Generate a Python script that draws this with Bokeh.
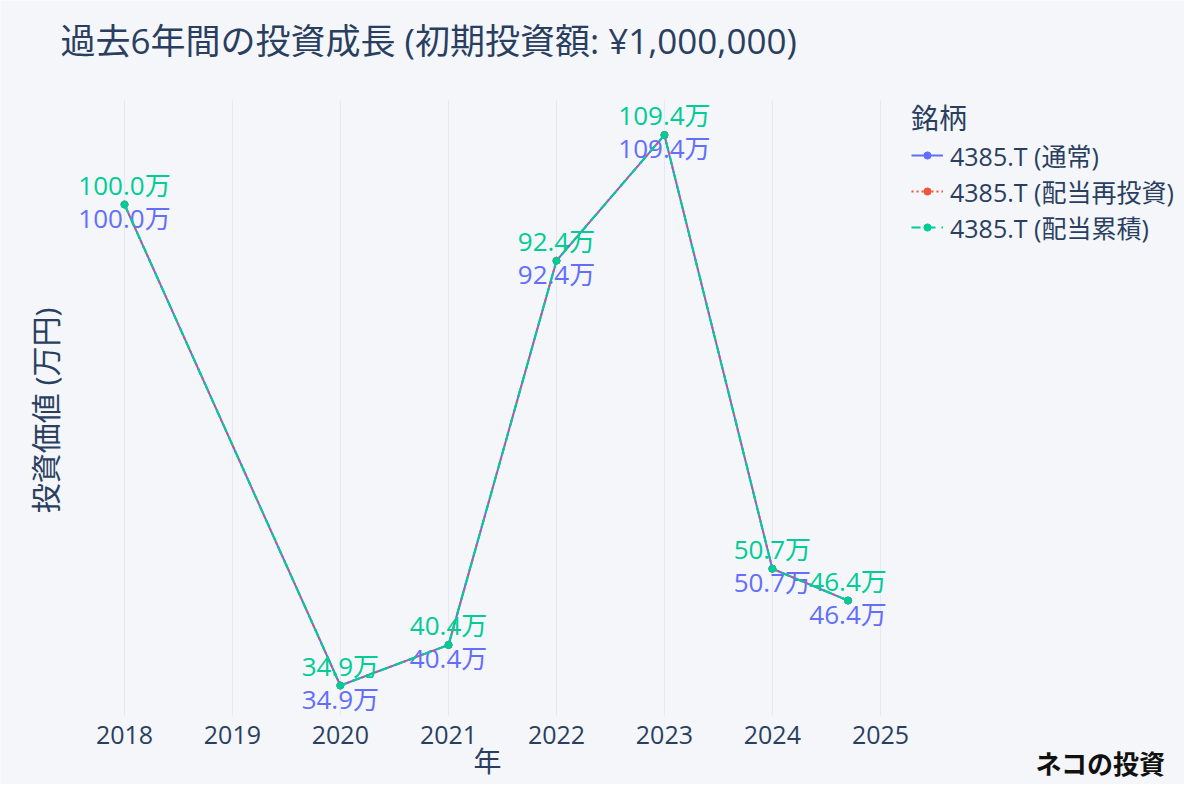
import math
import pandas as pd
from bokeh.plotting import figure
from bokeh.models import (Range1d, ColumnDataSource, Legend, LegendItem, Label,
                          FixedTicker, DatetimeTickFormatter, Grid)
from bokeh.core.properties import value
from bokeh.embed import file_html
from bokeh.resources import INLINE

# ---- data ----
dates = ["2018-01-01", "2020-01-01", "2021-01-01", "2022-01-01",
         "2023-01-01", "2024-01-01", "2024-09-13"]
normal = [100.0, 34.9, 40.4, 92.4, 109.4, 50.7, 46.4]
reinvest = [100.0, 34.9, 40.4, 92.4, 109.4, 50.7, 46.4]
accum = [100.0, 34.9, 40.4, 92.4, 109.4, 50.7, 46.4]
tick_years = [2018, 2019, 2020, 2021, 2022, 2023, 2024, 2025]
series_names = ["4385.T (通常)", "4385.T (配当再投資)", "4385.T (配当累積)"]
title_text = "過去6年間の投資成長 (初期投資額: ¥1,000,000)"
y_title = "投資価値 (万円)"
x_title = "年"
legend_title = "銘柄"
watermark = "ネコの投資"

# ---- style / layout ----
BG = "#F4F6FA"
GRID = "#E4E8EF"
TXT = "#2a3f5f"
BLUE, RED, GREEN = "#636EFA", "#EF553B", "#00CC96"
FONT = "Open Sans, Noto Sans CJK JP"

W, H = 1184, 784
PX_YEAR = 108.0            # pixels per year on the x scale
X_ANCHOR_PX = 124          # pixel position of Jan 1 of first tick year
PX_PER_UNIT = 7.389        # pixels per 1万 on the y scale
Y_ANCHOR_PX = 204          # pixel position of value 100
AREA_TOP_PX, AREA_BOT_PX = 100, 715

x_anchor = pd.Timestamp(f"{tick_years[0]}-01-01")
x0 = x_anchor - pd.Timedelta(days=X_ANCHOR_PX / PX_YEAR * 365.25)
x1 = x0 + pd.Timedelta(days=W / PX_YEAR * 365.25)
y_top = 100.0 + Y_ANCHOR_PX / PX_PER_UNIT
y_bot = 100.0 - (H - Y_ANCHOR_PX) / PX_PER_UNIT
area_top = 100.0 + (Y_ANCHOR_PX - AREA_TOP_PX) / PX_PER_UNIT
area_bot = 100.0 - (AREA_BOT_PX - Y_ANCHOR_PX) / PX_PER_UNIT

src = ColumnDataSource(dict(
    x=pd.to_datetime(dates),
    normal=normal, reinvest=reinvest, accum=accum,
    lab_n=[f"{v:.1f}万" for v in normal],
    lab_a=[f"{v:.1f}万" for v in accum],
))
tick_dates = pd.to_datetime([f"{y}-01-01" for y in tick_years])
grid_src = ColumnDataSource(dict(x=tick_dates,
                                 y0=[area_bot] * len(tick_years),
                                 y1=[area_top] * len(tick_years)))

p = figure(width=W, height=H, x_axis_type="datetime", y_axis_location=None,
           output_backend="svg", toolbar_location=None,
           x_range=Range1d(x0.to_pydatetime(), x1.to_pydatetime()),
           y_range=Range1d(y_bot, y_top),
           min_border_left=0, min_border_right=0, min_border_top=0,
           min_border_bottom=0,
           background_fill_color=BG, border_fill_color=BG,
           outline_line_color=None)

# hide the automatic grids (grid lines are drawn over the plot area only)
for r in p.center:
    if isinstance(r, Grid):
        r.visible = False

# x axis drawn at the bottom of the plot area
ticks_ms = [pd.Timestamp(f"{y}-01-01").value // 10**6 for y in tick_years]
p.xaxis.ticker = FixedTicker(ticks=ticks_ms)
fmt = "%Y"
p.xaxis.formatter = DatetimeTickFormatter(
    microseconds=fmt, milliseconds=fmt, seconds=fmt, minsec=fmt, minutes=fmt,
    hourmin=fmt, hours=fmt, days=fmt, months=fmt, years=fmt)
p.xaxis.fixed_location = area_bot
p.xaxis.axis_line_color = None
p.xaxis.major_tick_line_color = None
p.xaxis.minor_tick_line_color = None
p.xaxis.major_tick_out = 0
p.xaxis.minor_tick_out = 0
p.xaxis.major_label_standoff = 10
p.xaxis.major_label_text_font_size = "25px"
p.xaxis.major_label_text_font = FONT
p.xaxis.major_label_text_color = TXT

# vertical grid lines spanning the plot area
p.segment(x0="x", y0="y0", x1="x", y1="y1", source=grid_src,
          line_color=GRID, line_width=1)

# series
l1 = p.line("x", "normal", source=src, line_color=BLUE, line_width=2)
m1 = p.scatter("x", "normal", source=src, size=7, color=BLUE)
p.text("x", "normal", text="lab_n", source=src, text_color=BLUE,
       text_font=value(FONT), text_font_size="26px", text_align="center",
       text_baseline="middle", y_offset=13)
l2 = p.line("x", "reinvest", source=src, line_color=RED, line_width=2,
            line_dash="2 3")
m2 = p.scatter("x", "reinvest", source=src, size=7, color=RED)
l3 = p.line("x", "accum", source=src, line_color=GREEN, line_width=2,
            line_dash="9 6")
m3 = p.scatter("x", "accum", source=src, size=7, color=GREEN)
p.text("x", "accum", text="lab_a", source=src, text_color=GREEN,
       text_font=value(FONT), text_font_size="26px", text_align="center",
       text_baseline="middle", y_offset=-20)

legend = Legend(items=[
    LegendItem(label=series_names[0], renderers=[l1, m1]),
    LegendItem(label=series_names[1], renderers=[l2, m2]),
    LegendItem(label=series_names[2], renderers=[l3, m3]),
], location=(911, 539), title=legend_title)
legend.title_text_font_size = "28px"
legend.title_text_font_style = "normal"
legend.title_text_font = FONT
legend.title_text_color = TXT
legend.title_standoff = -3
legend.label_text_font_size = "25px"
legend.label_text_font = FONT
legend.label_text_color = TXT
legend.glyph_width = 32
legend.glyph_height = 18
legend.label_standoff = 7
legend.spacing = -2
legend.padding = 0
legend.margin = 0
legend.background_fill_alpha = 0
legend.border_line_color = None
p.add_layout(legend)

# title, axis titles, watermark
p.add_layout(Label(x=60, y=H - 40, x_units="screen", y_units="screen",
                   text=title_text, text_font=FONT, text_font_size="35px",
                   text_color=TXT, text_baseline="middle"))
p.add_layout(Label(x=45, y=H - 410, x_units="screen", y_units="screen",
                   text=y_title, text_font=FONT, text_font_size="30px",
                   text_color=TXT, text_baseline="middle", text_align="center",
                   angle=math.pi / 2))
p.add_layout(Label(x=487, y=H - 760, x_units="screen", y_units="screen",
                   text=x_title, text_font=FONT, text_font_size="28px",
                   text_color=TXT, text_baseline="middle", text_align="center"))
p.add_layout(Label(x=1100, y=H - 762, x_units="screen", y_units="screen",
                   text=watermark, text_font="Noto Sans CJK JP",
                   text_font_size="26px", text_font_style="bold",
                   text_color="#111111", text_baseline="middle",
                   text_align="center"))

open("out.html", "w").write(file_html(p, INLINE))
